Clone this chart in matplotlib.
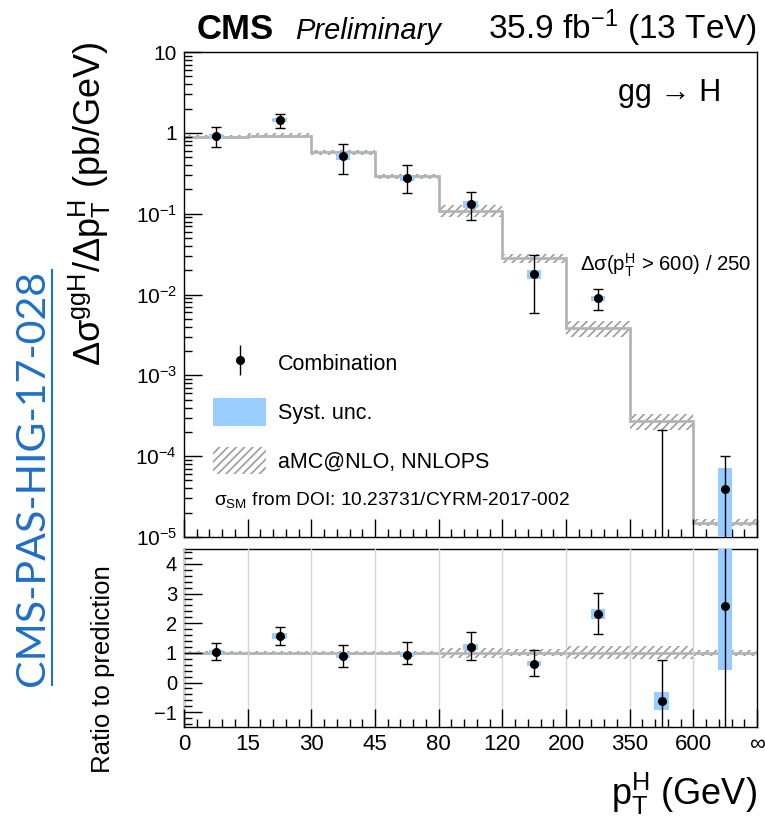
import numpy as np
import matplotlib.pyplot as plt
from matplotlib.lines import Line2D
from matplotlib.patches import Patch
from matplotlib.legend_handler import HandlerTuple
from matplotlib.ticker import FixedLocator, MultipleLocator, NullFormatter, FuncFormatter, LogLocator

plt.rcParams['font.family'] = ['Liberation Sans', 'DejaVu Sans']
plt.rcParams['mathtext.fontset'] = 'custom'
plt.rcParams['mathtext.rm'] = 'Liberation Sans'
plt.rcParams['mathtext.it'] = 'Liberation Sans:italic'
plt.rcParams['mathtext.bf'] = 'Liberation Sans:bold'
plt.rcParams['hatch.linewidth'] = 1.2

# pT(H) bin edges (GeV), last bin open ended
edge_labels = ['0', '15', '30', '45', '80', '120', '200', '350', '600', '\u221e']

# aMC@NLO NNLOPS prediction, pb/GeV (last bin divided by 250)
pred = np.array([0.89, 0.92, 0.578, 0.29, 0.109, 0.028, 0.00387, 2.74e-4, 1.5e-5])
# combined measurement, pb/GeV
xsec = np.array([0.91, 1.44, 0.514, 0.273, 0.130, 0.0179, 0.00894, -1.70e-4, 3.88e-5])
# total uncertainty relative to prediction (down / up)
err_dn = np.array([0.28, 0.30, 0.36, 0.32, 0.42, 0.43, 0.66, 1.40, 4.30])
err_up = np.array([0.30, 0.29, 0.38, 0.42, 0.50, 0.46, 0.72, 1.38, 4.10])
# systematic part, relative to prediction
syst = np.array([0.07, 0.10, 0.08, 0.07, 0.11, 0.08, 0.18, 0.30, 2.15])
# theory uncertainty on the prediction (relative)
theo = np.array([0.07, 0.07, 0.07, 0.07, 0.17, 0.12, 0.22, 0.22, 0.10])

ratio = xsec / pred

BLUE = '#99ccff'
HATCH = '#9c9c9c'
LINE = '#b4b4b4'
PAS_BLUE = '#1f6fc6'

nb = len(pred)
edges = np.arange(nb + 1)
centers = edges[:-1] + 0.5

W, H = 765, 819
fig = plt.figure(figsize=(W / 100, H / 100), dpi=100)


def box(l, t, r, b):
    return [l / W, 1 - b / H, (r - l) / W, (b - t) / H]


ax = fig.add_axes(box(184, 52, 757, 537))
rax = fig.add_axes(box(184, 549, 757, 727))

# ---- top panel: differential cross section
ax.set_yscale('log', nonpositive='clip')
ax.set_xlim(0, nb)
ax.set_ylim(1e-5, 10)

band_lo = pred * (1 - theo)
band_hi = pred * (1 + theo)
ax.bar(centers, band_hi - band_lo, bottom=band_lo, width=1, facecolor='none',
       edgecolor=HATCH, hatch='////', lw=0, zorder=1)
ax.stairs(pred, edges, color=LINE, lw=2, baseline=None, zorder=2)

s_lo = np.clip(pred * (ratio - syst), 1e-12, None)
s_hi = np.clip(pred * (ratio + syst), 1e-12, None)
ax.bar(centers, s_hi - s_lo, bottom=s_lo, width=0.22, color=BLUE, lw=0, zorder=3)
ax.errorbar(centers, xsec, yerr=[pred * err_dn, pred * err_up], fmt='o', color='k',
            ms=5.5, capsize=3.5, elinewidth=1, capthick=1, zorder=4)


def log_fmt(v, pos):
    e = int(round(np.log10(v)))
    if e == 0:
        return '1'
    if e == 1:
        return '10'
    return '$10^{%d}$' % e


ax.yaxis.set_major_locator(LogLocator(base=10, numticks=10))
ax.yaxis.set_minor_locator(LogLocator(base=10, subs=np.arange(2, 10), numticks=20))
ax.yaxis.set_major_formatter(FuncFormatter(log_fmt))
ax.yaxis.set_minor_formatter(NullFormatter())

# ---- bottom panel: ratio to prediction
rax.set_xlim(0, nb)
rax.set_ylim(-1.5, 4.5)
rax.xaxis.grid(True, which='major', color='#d4d4d4', lw=1, zorder=0)
rax.bar(centers, 2 * theo, bottom=1 - theo, width=1, facecolor='none',
        edgecolor=HATCH, hatch='////', lw=0, zorder=1)
rax.axhline(1, color=LINE, lw=2, zorder=2)
rax.bar(centers, 2 * syst, bottom=ratio - syst, width=0.22, color=BLUE, lw=0, zorder=3)
rax.errorbar(centers, ratio, yerr=[err_dn, err_up], fmt='o', color='k',
             ms=5.5, capsize=3.5, elinewidth=1, capthick=1, zorder=4)
rax.yaxis.set_major_locator(MultipleLocator(1))
rax.yaxis.set_minor_locator(MultipleLocator(0.2))
rax.yaxis.set_minor_formatter(NullFormatter())

for a in (ax, rax):
    a.xaxis.set_major_locator(FixedLocator(edges))
    a.xaxis.set_minor_locator(MultipleLocator(0.2))
    a.xaxis.set_minor_formatter(NullFormatter())
    a.tick_params(which='both', direction='in', top=False, right=False,
                  labelsize=15, width=1, pad=5)
    a.tick_params(which='major', length=13)
    a.tick_params(which='minor', length=6)
    for sp in a.spines.values():
        sp.set_linewidth(1)
    a.set_axisbelow(False)

ax.tick_params(axis='x', labelbottom=False)
rax.set_xticks(edges, labels=edge_labels)
rax.tick_params(axis='x', labelsize=16)
rax.tick_params(axis='y', labelsize=14.5)

# ---- legend and annotations
comb = (Line2D([], [], marker='|', ms=21, mew=1, color='k', ls='none'),
        Line2D([], [], marker='o', ms=5.5, color='k', ls='none'))
handles = [comb,
           Patch(facecolor=BLUE, edgecolor='none'),
           Patch(facecolor='none', edgecolor=HATCH, hatch='////', lw=0)]
labels = ['Combination', 'Syst. unc.', 'aMC@NLO, NNLOPS']
ax.legend(handles, labels, handler_map={tuple: HandlerTuple(ndivide=1)},
          loc='upper left', bbox_to_anchor=(0.050, 0.387), frameon=False,
          fontsize=15.5, handlelength=2.5, handleheight=1.6, labelspacing=0.98,
          handletextpad=0.55, borderpad=0, borderaxespad=0)

ax.text(0.052, 0.066, '\u03c3$_{\\mathrm{SM}}$ from DOI: 10.23731/CYRM-2017-002',
        transform=ax.transAxes, fontsize=13.8, va='baseline')
ax.text(0.991, 0.561, '\u0394\u03c3(p$_{\\mathrm{T}}^{\\mathrm{H}}$ > 600) / 250',
        transform=ax.transAxes, fontsize=14.7, ha='right', va='center')
ax.text(0.757, 0.915, 'gg \u2192 H', transform=ax.transAxes, fontsize=22,
        ha='left', va='center')

fig.text(197 / W, 1 - 39 / H, 'CMS', fontsize=25, fontweight='bold', va='baseline')
fig.text(295 / W, 1 - 39 / H, 'Preliminary', fontsize=21, style='italic', va='baseline')
fig.text(757 / W, 1 - 39 / H, '35.9 fb$^{-1}$ (13 TeV)', fontsize=24,
         ha='right', va='baseline')

fig.text(757 / W, 1 - 805 / H, 'p$_{\\mathrm{T}}^{\\mathrm{H}}$ (GeV)', fontsize=26,
         ha='right', va='baseline')
fig.text(101 / W, 1 - 42 / H,
         '\u0394\u03c3$^{\\mathrm{ggH}}$/\u0394p$_{\\mathrm{T}}^{\\mathrm{H}}$ (pb/GeV)',
         fontsize=26, rotation=90, rotation_mode='anchor', ha='right', va='baseline')
fig.text(110 / W, 1 - 565 / H, 'Ratio to prediction', fontsize=18.5,
         rotation=90, rotation_mode='anchor', ha='right', va='baseline')

# document number along the left margin, sized to span 270..685 px
pas = fig.text(44 / W, 1 - 477.5 / H, 'CMS-PAS-HIG-17-028', fontsize=30,
               family=['Lato', 'DejaVu Sans'], color=PAS_BLUE,
               rotation=90, rotation_mode='anchor', ha='center', va='baseline')
fig.canvas.draw()
span = pas.get_window_extent().height
pas.set_fontsize(30 * 415 / span)
fig.add_artist(Line2D([52 / W, 52 / W], [1 - 685 / H, 1 - 270 / H], color=PAS_BLUE,
                      lw=1.5, transform=fig.transFigure))

fig.savefig('out.png', dpi=100)
